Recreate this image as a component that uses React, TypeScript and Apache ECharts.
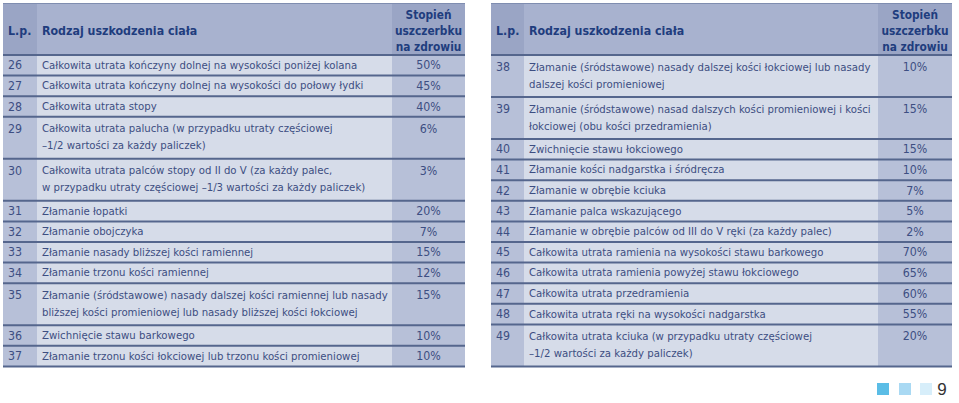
import React, { useEffect, useRef } from "react";
import * as echarts from "echarts";

const leftLp = ["26", "27", "28", "29", "30", "31", "32", "33", "34", "35", "36", "37"];
const leftDesc = [
  "Całkowita utrata kończyny dolnej na wysokości poniżej kolana",
  "Całkowita utrata kończyny dolnej na wysokości do połowy łydki",
  "Całkowita utrata stopy",
  "Całkowita utrata palucha (w przypadku utraty częściowej\n–1/2 wartości za każdy paliczek)",
  "Całkowita utrata palców stopy od II do V (za każdy palec,\nw przypadku utraty częściowej –1/3 wartości za każdy paliczek)",
  "Złamanie łopatki",
  "Złamanie obojczyka",
  "Złamanie nasady bliższej kości ramiennej",
  "Złamanie trzonu kości ramiennej",
  "Złamanie (śródstawowe) nasady dalszej kości ramiennej lub nasady\nbliższej kości promieniowej lub nasady bliższej kości łokciowej",
  "Zwichnięcie stawu barkowego",
  "Złamanie trzonu kości łokciowej lub trzonu kości promieniowej",
];
const leftPct = ["50%", "45%", "40%", "6%", "3%", "20%", "7%", "15%", "12%", "15%", "10%", "10%"];

const rightLp = ["38", "39", "40", "41", "42", "43", "44", "45", "46", "47", "48", "49"];
const rightDesc = [
  "Złamanie (śródstawowe) nasady dalszej kości łokciowej lub nasady\ndalszej kości promieniowej",
  "Złamanie (śródstawowe) nasad dalszych kości promieniowej i kości\nłokciowej (obu kości przedramienia)",
  "Zwichnięcie stawu łokciowego",
  "Złamanie kości nadgarstka i śródręcza",
  "Złamanie w obrębie kciuka",
  "Złamanie palca wskazującego",
  "Złamanie w obrębie palców od III do V ręki (za każdy palec)",
  "Całkowita utrata ramienia na wysokości stawu barkowego",
  "Całkowita utrata ramienia powyżej stawu łokciowego",
  "Całkowita utrata przedramienia",
  "Całkowita utrata ręki na wysokości nadgarstka",
  "Całkowita utrata kciuka (w przypadku utraty częściowej\n–1/2 wartości za każdy paliczek)",
];
const rightPct = ["10%", "15%", "15%", "10%", "7%", "5%", "2%", "70%", "65%", "60%", "55%", "20%"];

const headerLp = "L.p.";
const headerDesc = "Rodzaj uszkodzenia ciała";
const headerPct = ["Stopień", "uszczerbku", "na zdrowiu"];
const pageNumber = "9";

const FONT = '"DejaVu Sans Condensed", "DejaVu Sans", sans-serif';
const C = {
  head: "#a8b2cf",
  headCol: "#9aa5c5",
  body: "#d6dce9",
  bodyCol: "#b7c0d8",
  line: "#55668d",
  headText: "#1f3d7e",
  text: "#3d4e82",
};
const BODY_FS = 11.3;
const HEAD_FS = 12.3;
const HEAD_PCT_FS = 11.8;

function buildTable(x0: number, lpR: number, pctL: number, x1: number, lp: string[], desc: string[], pct: string[]) {
  const els: any[] = [];
  const top = 3;
  const headB = 55;
  const rowsH = desc.map((d) => (d.includes("\n") ? 42 : 20.6));
  const bottom = headB + rowsH.reduce((a, b) => a + b, 0);
  els.push({ type: "rect", shape: { x: x0, y: top, width: x1 - x0, height: headB - top }, style: { fill: C.head } });
  els.push({ type: "rect", shape: { x: x0, y: top, width: lpR - x0, height: headB - top }, style: { fill: C.headCol } });
  els.push({ type: "rect", shape: { x: pctL, y: top, width: x1 - pctL, height: headB - top }, style: { fill: C.headCol } });
  els.push({ type: "rect", shape: { x: x0, y: headB, width: x1 - x0, height: bottom - headB }, style: { fill: C.body } });
  els.push({ type: "rect", shape: { x: x0, y: headB, width: lpR - x0, height: bottom - headB }, style: { fill: C.bodyCol } });
  els.push({ type: "rect", shape: { x: pctL, y: headB, width: x1 - pctL, height: bottom - headB }, style: { fill: C.bodyCol } });
  els.push({ type: "line", shape: { x1: x0, y1: top + 0.5, x2: x1, y2: top + 0.5 }, style: { stroke: "#7f8db0", lineWidth: 1 } });
  const hc = 30.5;
  els.push({ type: "text", style: { text: headerLp, x: x0 + 5, y: hc, fill: C.headText, fontFamily: FONT, fontWeight: "bold", fontSize: HEAD_FS, verticalAlign: "middle" } });
  els.push({ type: "text", style: { text: headerDesc, x: lpR + 5, y: hc, fill: C.headText, fontFamily: FONT, fontWeight: "bold", fontSize: HEAD_FS, verticalAlign: "middle" } });
  headerPct.forEach((t, i) => {
    els.push({ type: "text", style: { text: t, x: (pctL + x1) / 2, y: hc + (i - 1) * 16, fill: C.headText, fontFamily: FONT, fontWeight: "bold", fontSize: HEAD_PCT_FS, align: "center", verticalAlign: "middle" } });
  });
  let y = headB;
  desc.forEach((d, i) => {
    const h = rowsH[i];
    const lines = d.split("\n");
    const first = lines.length > 1 ? y + 12 : y + h / 2;
    els.push({ type: "text", style: { text: lp[i], x: x0 + 5, y: first, fill: C.text, fontFamily: FONT, fontSize: BODY_FS + 1, verticalAlign: "middle" } });
    lines.forEach((l, j) => {
      els.push({ type: "text", style: { text: l, x: lpR + 5, y: first + j * 17, fill: C.text, fontFamily: FONT, fontSize: BODY_FS, verticalAlign: "middle" } });
    });
    els.push({ type: "text", style: { text: pct[i], x: (pctL + x1) / 2, y: first, fill: C.text, fontFamily: FONT, fontSize: BODY_FS + 1, align: "center", verticalAlign: "middle" } });
    y += h;
  });
  let ly = headB;
  els.push({ type: "line", shape: { x1: x0, y1: ly, x2: x1, y2: ly }, style: { stroke: C.line, lineWidth: 2 } });
  rowsH.forEach((h) => {
    ly += h;
    els.push({ type: "line", shape: { x1: x0, y1: ly, x2: x1, y2: ly }, style: { stroke: C.line, lineWidth: 2 } });
  });
  return els;
}

export default function App() {
  const ref = useRef<HTMLDivElement>(null);
  useEffect(() => {
    if (!ref.current) return;
    const chart = echarts.init(ref.current, null, { renderer: "svg" });
    const els: any[] = [
      ...buildTable(3, 37, 392, 465, leftLp, leftDesc, leftPct),
      ...buildTable(491, 524, 878, 952, rightLp, rightDesc, rightPct),
      { type: "rect", shape: { x: 877, y: 383, width: 12, height: 12 }, style: { fill: "#5bbde6" } },
      { type: "rect", shape: { x: 899, y: 383, width: 12, height: 12 }, style: { fill: "#a9d9f3" } },
      { type: "rect", shape: { x: 920, y: 383, width: 12, height: 12 }, style: { fill: "#d7eefa" } },
      { type: "text", style: { text: pageNumber, x: 942, y: 389, fill: "#333333", fontFamily: '"Liberation Sans", sans-serif', fontSize: 17, align: "center", verticalAlign: "middle" } },
    ];
    chart.setOption({ animation: false, graphic: { elements: els } });
    return () => chart.dispose();
  }, []);
  return <div ref={ref} style={{ position: "fixed", left: 0, top: 0, width: 959, height: 403, background: "#ffffff" }} />;
}
